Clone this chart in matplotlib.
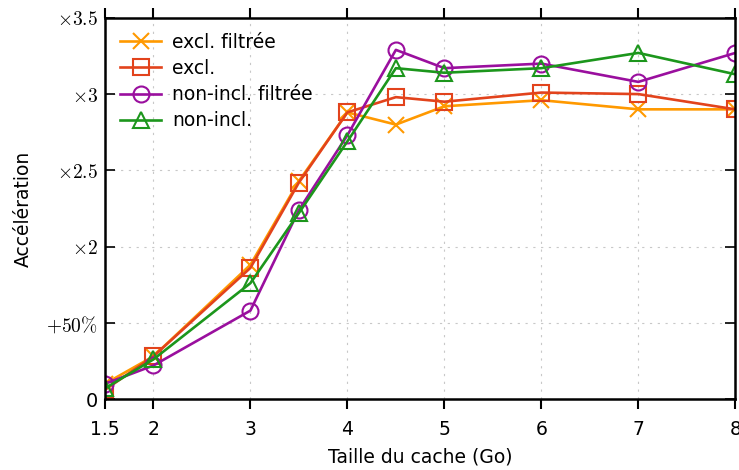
import matplotlib
matplotlib.use("Agg")
import matplotlib.pyplot as plt

plt.rcParams["mathtext.fontset"] = "cm"

# cache size (Go) and speedup per configuration
taille = [1.5, 2, 3, 3.5, 4, 4.5, 5, 6, 7, 8]
excl_filtree = [1.10, 1.28, 1.88, 2.43, 2.88, 2.80, 2.92, 2.96, 2.90, 2.90]
excl = [1.06, 1.28, 1.86, 2.42, 2.88, 2.98, 2.95, 3.01, 3.00, 2.90]
non_incl_filtree = [1.10, 1.22, 1.58, 2.24, 2.73, 3.29, 3.17, 3.20, 3.08, 3.27]
non_incl = [1.07, 1.26, 1.76, 2.22, 2.69, 3.17, 3.14, 3.17, 3.27, 3.13]

series = [
    ("excl. filtrée", excl_filtree, "#ff9900", "x"),
    ("excl.", excl, "#e2431c", "s"),
    ("non-incl. filtrée", non_incl_filtree, "#9a0f9e", "o"),
    ("non-incl.", non_incl, "#1c961c", "^"),
]

xticks = [1.5, 2, 3, 4, 5, 6, 7, 8]
xlabels = ["1.5", "2", "3", "4", "5", "6", "7", "8"]
yticks = [1.0, 1.5, 2.0, 2.5, 3.0, 3.5]
ylabels = ["0", r"$+50\%$", r"$\times 2$", r"$\times 2.5$", r"$\times 3$", r"$\times 3.5$"]

fig = plt.figure(figsize=(7.39, 4.70), dpi=100)
ax = fig.add_axes([0.142, 0.151, 0.853, 0.811])

for label, vals, color, marker in series:
    ax.plot(taille, vals, color=color, marker=marker, label=label,
            lw=1.9, markersize=12 if marker == "x" else 11.5,
            markerfacecolor="none", markeredgecolor=color, markeredgewidth=1.5)

ax.set_xlim(1.5, 8)
ax.set_ylim(1.0, 3.5)
ax.set_xticks(xticks)
ax.set_xticklabels(xlabels)
ax.set_yticks(yticks)
ax.set_yticklabels(ylabels)

ax.tick_params(axis="x", direction="out", top=True, length=7, width=1.5,
               labelsize=13.5, pad=8)
ax.tick_params(axis="y", direction="in", right=True, length=7, width=1.2,
               labelsize=14, pad=5)
for s in ax.spines.values():
    s.set_linewidth(1.8)

ax.grid(True, ls=(0, (2, 5)), color="#c8c8c8", lw=0.8)
ax.set_axisbelow(True)

ax.set_xlabel("Taille du cache (Go)", fontsize=13.5, labelpad=6)
ax.set_ylabel("Accélération", fontsize=13.5, labelpad=10)

ax.legend(loc="upper left", frameon=False, fontsize=13.5, handlelength=2.2,
          handletextpad=0.6, borderaxespad=0.4, labelspacing=0.38)

fig.savefig("out.png", dpi=100)
